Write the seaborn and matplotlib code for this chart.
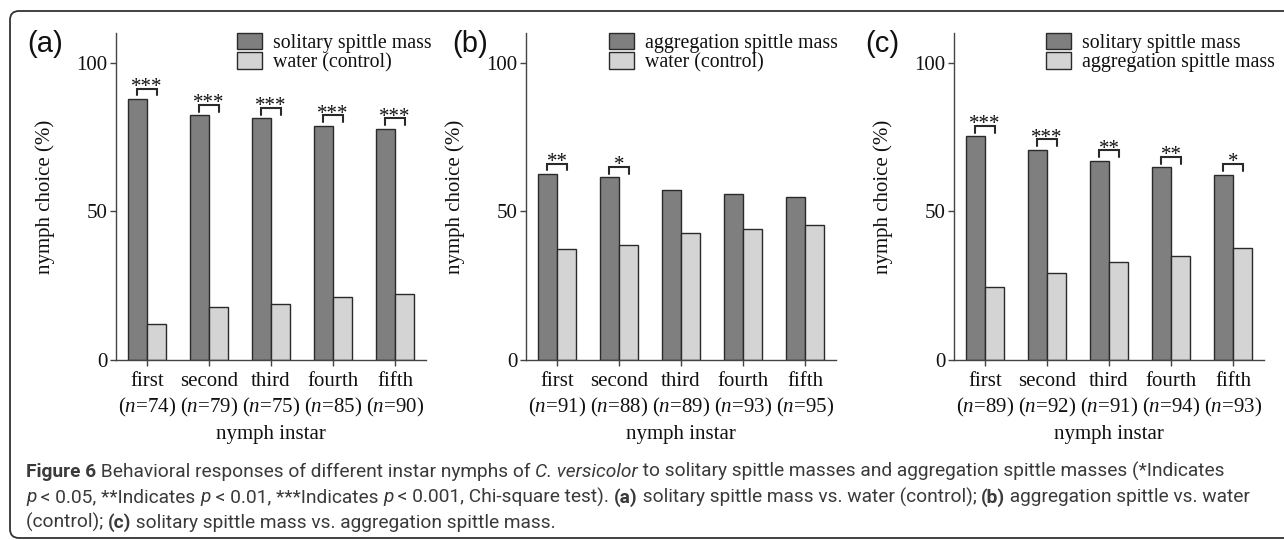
import matplotlib
matplotlib.use("Agg")
import numpy as np
import pandas as pd
import seaborn as sns
import matplotlib.pyplot as plt
from matplotlib.patches import FancyBboxPatch, Patch
from matplotlib.transforms import IdentityTransform
from matplotlib import font_manager

# ---------------- data ----------------
categories = ["first", "second", "third", "fourth", "fifth"]

a_n = [74, 79, 75, 85, 90]
a_first = [87.8, 82.3, 81.3, 78.8, 77.8]
a_second = [12.2, 17.7, 18.7, 21.2, 22.2]
a_sig = ["***", "***", "***", "***", "***"]
a_labels = ["solitary spittle mass", "water (control)"]

b_n = [91, 88, 89, 93, 95]
b_first = [62.6, 61.4, 57.3, 55.9, 54.7]
b_second = [37.4, 38.6, 42.7, 44.1, 45.3]
b_sig = ["**", "*", "", "", ""]
b_labels = ["aggregation spittle mass", "water (control)"]

c_n = [89, 92, 91, 94, 93]
c_first = [75.3, 70.7, 67.0, 64.9, 62.4]
c_second = [24.7, 29.3, 33.0, 35.1, 37.6]
c_sig = ["***", "***", "**", "**", "*"]
c_labels = ["solitary spittle mass", "aggregation spittle mass"]

panel_tags = ["(a)", "(b)", "(c)"]
y_ticks = [0, 50, 100]
x_title = "nymph instar"
y_title = "nymph choice (%)"

caption_lines = [
    [("Figure 6", "bold", "normal"),
     (" Behavioral responses of different instar nymphs of ", "normal", "normal"),
     ("C. versicolor", "normal", "italic"),
     (" to solitary spittle masses and aggregation spittle masses (*Indicates", "normal", "normal")],
    [("p", "normal", "italic"), (" < 0.05, **Indicates ", "normal", "normal"),
     ("p", "normal", "italic"), (" < 0.01, ***Indicates ", "normal", "normal"),
     ("p", "normal", "italic"), (" < 0.001, Chi-square test). ", "normal", "normal"),
     ("(a)", "bold", "normal"), (" solitary spittle mass vs. water (control); ", "normal", "normal"),
     ("(b)", "bold", "normal"), (" aggregation spittle vs. water", "normal", "normal")],
    [("(control); ", "normal", "normal"), ("(c)", "bold", "normal"),
     (" solitary spittle mass vs. aggregation spittle mass.", "normal", "normal")],
]

# ---------------- style ----------------
DARK = "#7f7f7f"
LIGHT = "#d4d4d4"
EDGE = "#2a2a2a"
AXC = "#444444"
CAPC = "#3a3a3a"

sns.set_style("ticks")
plt.rcParams["font.family"] = ["Liberation Serif", "DejaVu Serif"]
plt.rcParams["mathtext.fontset"] = "custom"
plt.rcParams["mathtext.it"] = "Liberation Serif:italic"
plt.rcParams["mathtext.rm"] = "Liberation Serif"

W, H = 1284, 540
fig = plt.figure(figsize=(W / 100, H / 100), dpi=100)

FS = 15
panels = [
    (116, a_n, a_first, a_second, a_sig, a_labels, 0.39, 27),
    (526, b_n, b_first, b_second, b_sig, b_labels, 0.268, 452),
    (954, c_n, c_first, c_second, c_sig, c_labels, 0.297, 865),
]

for k, (left, ns, first, second, sig, labels, legx, tagx) in enumerate(panels):
    ax = fig.add_axes([left / W, 1 - 360 / H, 310 / W, 327 / H])
    df = pd.DataFrame({
        "instar": categories * 2,
        "treat": [labels[0]] * 5 + [labels[1]] * 5,
        "pct": list(first) + list(second),
    })
    sns.barplot(data=df, x="instar", y="pct", hue="treat", hue_order=labels,
                order=categories, palette=[DARK, LIGHT], width=0.62,
                edgecolor=EDGE, linewidth=1.0, saturation=1, errorbar=None,
                legend=False, ax=ax)
    sns.despine(ax=ax)
    for s in ("left", "bottom"):
        ax.spines[s].set_color(AXC)
        ax.spines[s].set_linewidth(1.0)
    ax.set_xlim(-0.5, 4.5)
    ax.set_ylim(0, 110)
    ax.set_yticks(y_ticks)
    ax.set_yticklabels([str(v) for v in y_ticks], fontsize=FS)
    ax.set_xticks(range(len(categories)))
    ax.set_xticklabels([f"{c}\n($\\mathit{{n}}$={n})" for c, n in zip(categories, ns)],
                       fontsize=FS)
    for t in ax.get_xticklabels():
        t.set_linespacing(1.3)
    ax.tick_params(axis="both", length=4, width=1.0, color=AXC, pad=2, labelcolor="#111111")
    ax.tick_params(axis="x", pad=5)
    ax.set_xlabel(x_title, fontsize=FS, color="#111111")
    ax.set_ylabel(y_title, fontsize=FS, color="#111111")
    ax.xaxis.set_label_coords(0.5, -0.2)
    ax.yaxis.set_label_coords(-0.197, 0.5)

    # significance brackets
    c0, c1 = ax.containers[0], ax.containers[1]
    for i, s in enumerate(sig):
        if not s:
            continue
        p0, p1 = c0.patches[i], c1.patches[i]
        x0 = p0.get_x() + p0.get_width() / 2
        x1 = p1.get_x() + p1.get_width() / 2
        y0 = p0.get_height()
        ax.plot([x0, x0, x1, x1], [y0 + 1.2, y0 + 3.5, y0 + 3.5, y0 + 1.2],
                color=EDGE, lw=1.5, solid_joinstyle="miter", clip_on=False)
        ax.text((x0 + x1) / 2, y0 + 2.4, s, ha="center", va="baseline",
                fontsize=15, color="#111111")

    handles = [Patch(facecolor=DARK, edgecolor=EDGE, linewidth=1.0, label=labels[0]),
               Patch(facecolor=LIGHT, edgecolor=EDGE, linewidth=1.0, label=labels[1])]
    ax.legend(handles=handles, loc="upper left", bbox_to_anchor=(legx, 1.0),
              frameon=False, borderpad=0, borderaxespad=0, handlelength=1.25,
              handleheight=0.9, labelspacing=-0.05, handletextpad=0.55,
              fontsize=14.3, labelcolor="#111111")

    fig.text(tagx / W, 1 - 30 / H, panel_tags[k], family=["Liberation Sans", "DejaVu Sans"],
             fontsize=21, va="top", ha="left", color="#111111")

# ---------------- caption ----------------
names = {f.name for f in font_manager.fontManager.ttflist}
if "Liberation Sans Narrow" in names:
    cap_family = ["Liberation Sans Narrow"]
elif "Roboto" in names:
    cap_family = ["Roboto", "DejaVu Sans"]
else:
    cap_family = ["Open Sans", "DejaVu Sans"]
renderer = fig.canvas.get_renderer()


def run_width(s, size, weight, style):
    t1 = fig.text(0, 0, s + "|", fontsize=size, fontweight=weight, fontstyle=style, family=cap_family)
    t2 = fig.text(0, 0, "|", fontsize=size, fontweight=weight, fontstyle=style, family=cap_family)
    w = t1.get_window_extent(renderer).width - t2.get_window_extent(renderer).width
    t1.remove()
    t2.remove()
    return w


base = 12.0
w1 = sum(run_width(s, base, wt, st) for s, wt, st in caption_lines[0])
cap_size = base * (1197.0 / w1)

baselines = [477, 502.5, 528]
for line, yb in zip(caption_lines, baselines):
    x = 26.0
    for s, wt, st in line:
        fig.text(x / W, 1 - yb / H, s, fontsize=cap_size, fontweight=wt, fontstyle=st,
                 family=cap_family, va="baseline", ha="left", color=CAPC)
        x += run_width(s, cap_size, wt, st)

# rounded border
border = FancyBboxPatch((10, H - 538), 1300, 527,
                        boxstyle="round,pad=0,rounding_size=9",
                        transform=IdentityTransform(), fill=False,
                        edgecolor="#333333", linewidth=1.3)
fig.add_artist(border)

fig.savefig("out.png", dpi=100)
